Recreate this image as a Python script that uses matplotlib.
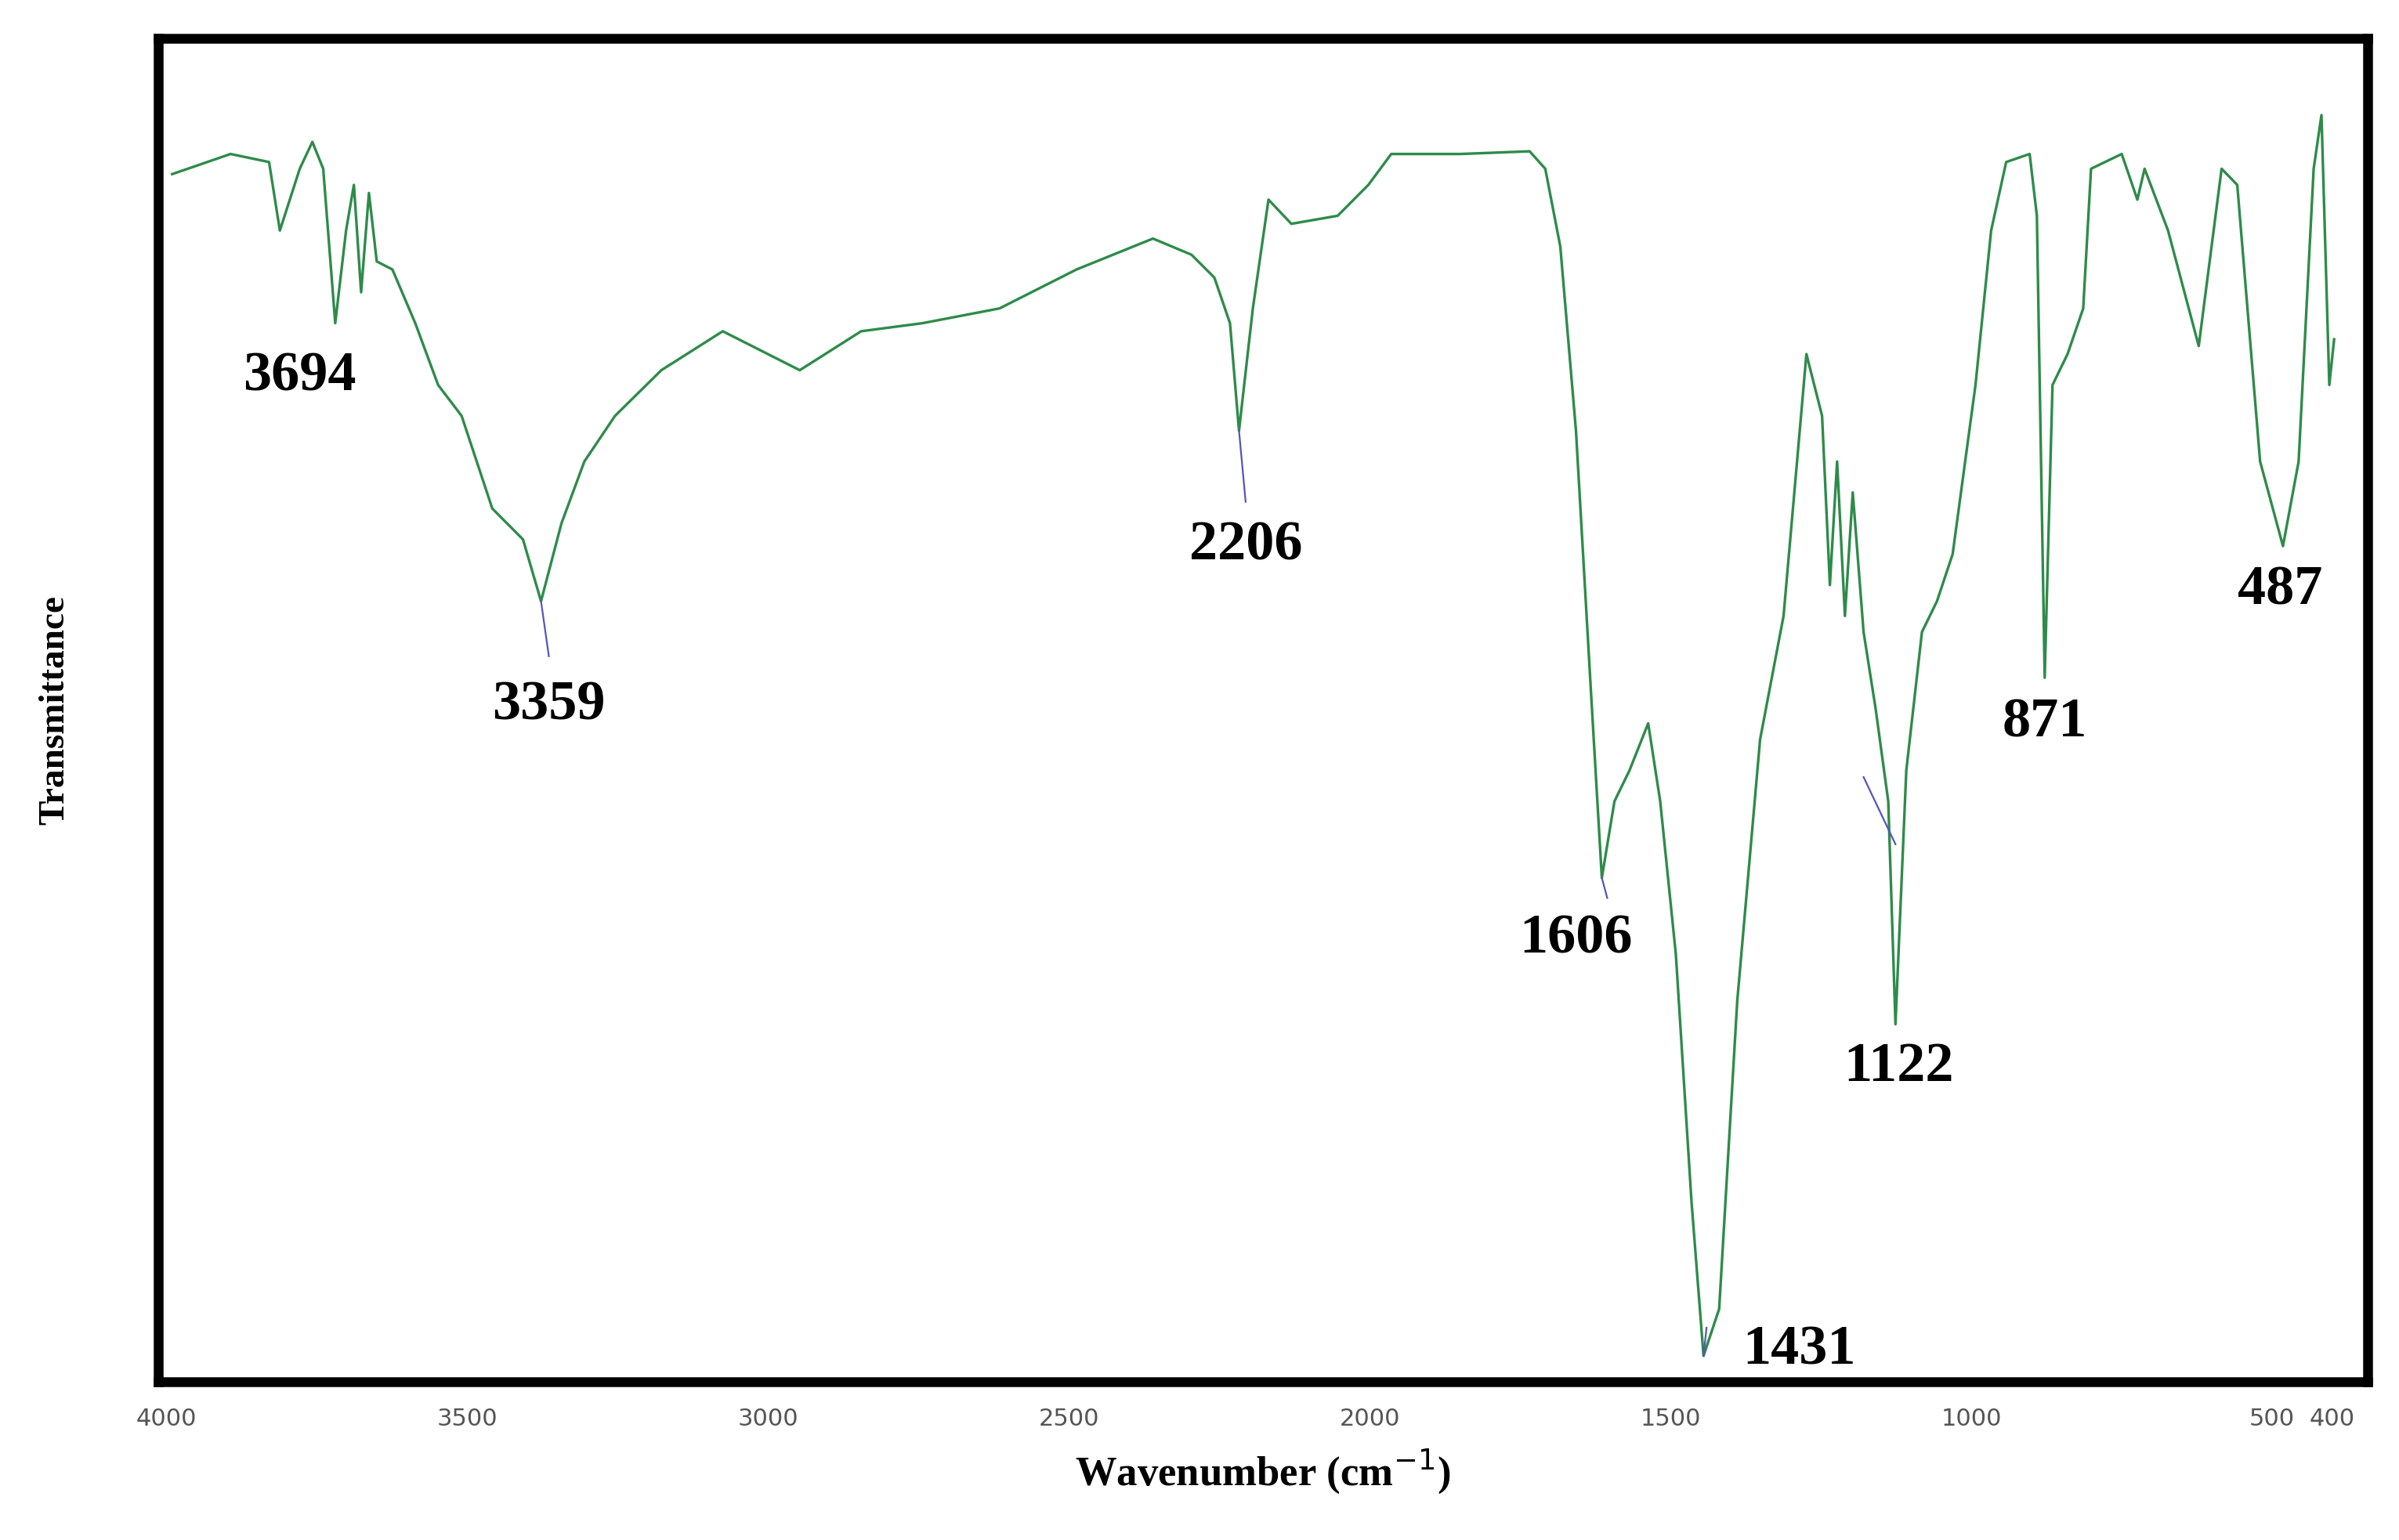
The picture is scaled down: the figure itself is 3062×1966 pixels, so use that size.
import matplotlib
matplotlib.use("Agg")
import matplotlib.pyplot as plt

wavenumber = [3990,3893,3829,3811,3778,3757,3739,3719,3701,3688,3676,3663,3650,3624,3586,3548,3509,
              3458,3407,3377,3343,3305,3254,3177,3075,2947,2845,2743,2615,2487,2360,2296,2258,2232,
              2217,2194,2168,2130,2053,2002,1964,1849,1734,1708,1683,1657,1632,1614,1593,1568,1537,
              1517,1491,1465,1445,1419,1389,1351,1312,1274,1248,1235,1223,1210,1197,1179,1159,1138,
              1126,1108,1082,1057,1031,993,967,942,903,891,878,865,840,814,801,750,724,712,673,622,
              584,558,520,482,456,431,418,405,397]
transmittance = [89.9,91.4,90.8,85.7,90.3,92.3,90.3,78.8,85.7,89.1,81.1,88.5,83.4,82.8,78.8,74.2,71.9,
                 65.0,62.7,58.1,63.9,68.5,71.9,75.3,78.2,75.3,78.2,78.8,79.9,82.8,85.1,83.9,82.2,78.8,
                 70.8,79.9,88.0,86.2,86.8,89.1,91.4,91.4,91.6,90.3,84.5,70.8,51.3,37.5,43.2,45.5,49.0,
                 43.2,31.8,13.4,1.9,5.4,28.3,47.8,57.0,76.5,71.9,59.3,68.5,57.0,66.2,55.8,50.1,43.2,
                 26.6,45.5,55.8,58.1,61.6,74.2,85.7,90.8,91.4,86.8,52.4,74.2,76.5,79.9,90.3,91.4,88.0,
                 90.3,85.7,77.1,90.3,89.1,68.5,62.2,68.5,90.3,94.3,74.2,77.6]

peak_labels = ["3694", "3359", "2206", "1606", "1431", "1122", "871", "487"]
label_x = [3778, 3364, 2206, 1657, 1286, 1121, 878, 487]
label_y = [74.8, 50.3, 62.2, 32.9, 2.3, 23.4, 49.0, 58.9]
xticks = [4000, 3500, 3000, 2500, 2000, 1500, 1000, 500, 400]

fig = plt.figure(figsize=(15.31, 9.83), dpi=200)
ax = fig.add_axes([0.066, 0.103, 0.921, 0.872])
ax.plot(wavenumber, transmittance, color="#2e8b4a", lw=1.2)
ax.set_xlim(4013, 341)
ax.set_ylim(0, 100)
ax.set_yticks([])
ax.set_xticks(xticks)
ax.set_xticklabels(["4000","3500","3000","2500","2000","1500","1000","500","400"],
                   color="#555555", fontsize=11, family="DejaVu Sans")
ax.tick_params(axis="x", length=0, pad=12)
for s in ax.spines.values():
    s.set_linewidth(4.5)
    s.set_color("black")

for t, x, y in zip(peak_labels, label_x, label_y):
    ax.text(x, y, t, ha="center", va="center", fontsize=26, fontweight="bold",
            family="Liberation Serif")

# leader lines
ax.plot([3377, 3364], [58.1, 54], color="#5555bb", lw=0.8)
ax.plot([2217, 2206], [70.8, 65.5], color="#5555bb", lw=0.8)
ax.plot([1614, 1605], [37.5, 36.0], color="#5555bb", lw=0.8)
ax.plot([1445, 1440], [1.9, 4.0], color="#5555bb", lw=0.8)
ax.plot([1179, 1126], [45, 40], color="#5555bb", lw=0.8)

ax.set_xlabel("Wavenumber (cm$^{-1}$)", fontsize=19, fontweight="bold",
              family="Liberation Serif", labelpad=8)
ax.set_ylabel("Transmittance", fontsize=17, fontweight="bold", family="Liberation Serif",
              labelpad=40)
fig.savefig("out.png")
